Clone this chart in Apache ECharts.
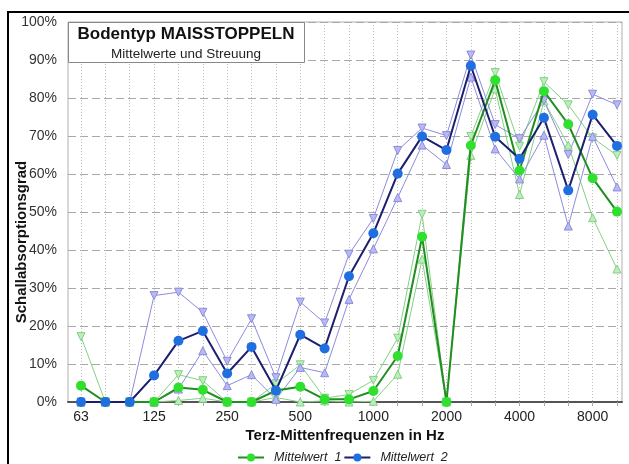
<!DOCTYPE html>
<html>
<head>
<meta charset="utf-8">
<script src="https://cdn.jsdelivr.net/npm/echarts@6/dist/echarts.min.js"></script>
<style>
  html, body { margin: 0; padding: 0; background: #fff; }
  #chart { width: 629px; height: 464px; }
</style>
</head>
<body>
<div id="chart"></div>
<script>
// Third-octave centre frequencies (Hz)
const frequencies = ['63','80','100','125','160','200','250','315','400','500','630','800',
                     '1000','1250','1600','2000','2500','3150','4000','5000','6300','8000','10000'];

// Absorption coefficient in percent, group 1 (mean, mean + spread, mean - spread)
const mean1  = [4.3, 0, 0, 0, 3.8, 3.2, 0, 0, 3.0, 4.0, 0.7, 0.7, 2.9, 12.1, 43.5, 0, 67.5, 84.7, 60.9, 81.8, 73.1, 58.9, 50.1];
const upper1 = [17.2, 0, 0, 0, 7.2, 5.6, 0, 0, 4.8, 9.8, 1.0, 2.0, 5.7, 16.8, 49.4, 0, 69.9, 86.7, 67.3, 84.3, 78.2, 69.5, 64.9];
const lower1 = [0, 0, 0, 0, 0.4, 1.0, 0, 0, 1.2, 0, 0.3, 0, 0.2, 7.3, 37.6, 0, 64.9, 82.4, 54.6, 79.2, 67.6, 48.5, 35.0];

// Group 2
const mean2  = [0, 0, 0, 7.0, 16.1, 18.7, 7.5, 14.5, 3.0, 17.7, 14.1, 33.1, 44.4, 60.1, 69.9, 66.3, 88.5, 69.8, 64.0, 74.8, 55.7, 75.6, 67.4];
const upper2 = [0, 0, 0, 28.0, 28.9, 23.6, 10.7, 21.9, 6.4, 26.3, 20.8, 38.9, 48.3, 66.2, 72.1, 70.1, 91.3, 73.0, 69.3, 79.3, 65.1, 81.0, 78.2];
const lower2 = [0, 0, 0, 0, 3.4, 13.5, 4.3, 7.2, 0.7, 9.1, 7.7, 27.0, 40.3, 53.8, 67.6, 62.5, 85.5, 66.6, 58.7, 70.2, 46.3, 69.9, 56.6];

// Only every third frequency carries a label
const tickLabels = ['63','125','250','500','1000','2000','4000','8000'];

const FONT = "'Liberation Sans', Arial, sans-serif";

const chart = echarts.init(document.getElementById('chart'), null, { renderer: 'canvas' });

function spreadSeries(name, data, color, fill, down) {
  return {
    name: name, type: 'line', data: data,
    xAxisIndex: 1, yAxisIndex: 1,
    symbol: 'triangle', symbolSize: 8, symbolRotate: down ? 180 : 0,
    lineStyle: { color: color, width: 1 },
    itemStyle: { color: fill, borderColor: color, borderWidth: 1 },
    emphasis: { disabled: true }, animation: false, z: 2
  };
}

function meanSeries(name, data, lineColor, dotColor, z) {
  return {
    name: name, type: 'line', data: data,
    xAxisIndex: 1, yAxisIndex: 1,
    symbol: 'circle', symbolSize: 10,
    lineStyle: { color: lineColor, width: 2 },
    itemStyle: { color: dotColor, borderWidth: 0 },
    emphasis: { disabled: true }, animation: false, z: z
  };
}

chart.setOption({
  backgroundColor: '#fff',
  animation: false,
  textStyle: { fontFamily: FONT },
  grid: [
    // frame, horizontal grid and percent labels
    { left: 68, right: 7, top: 22, bottom: 62, show: true, borderColor: '#b0b0b0', borderWidth: 1, backgroundColor: '#fff' },
    // frequency positions
    { left: 81, right: 12, top: 22, bottom: 62 }
  ],
  xAxis: [
    {
      gridIndex: 0, type: 'value', min: 0, max: 1,
      axisLine: { show: true, onZero: false, lineStyle: { color: '#555', width: 2 } },
      axisTick: { show: false }, axisLabel: { show: false }, splitLine: { show: false },
      name: 'Terz-Mittenfrequenzen in Hz', nameLocation: 'middle', nameGap: 26,
      nameTextStyle: { fontFamily: FONT, fontSize: 15, fontWeight: 'bold', color: '#111' }
    },
    {
      gridIndex: 1, type: 'category', data: frequencies, boundaryGap: false,
      axisLine: { show: false },
      axisTick: { show: true, interval: 0, length: 4, lineStyle: { color: '#aaa' } },
      splitLine: { show: true, interval: 0, lineStyle: { color: '#bdbdbd', type: [1, 2], width: 1 } },
      axisLabel: {
        interval: 0, margin: 8, color: '#222', fontSize: 14, fontFamily: FONT,
        formatter: v => tickLabels.includes(v) ? v : ''
      }
    }
  ],
  yAxis: [
    {
      gridIndex: 0, type: 'value', min: 0, max: 100, interval: 10,
      axisLine: { show: false }, axisTick: { show: false },
      axisLabel: { formatter: '{value}%', color: '#333', fontSize: 14, fontFamily: FONT, margin: 11 },
      splitLine: { show: true, lineStyle: { color: '#a8a8a8', type: [8, 4], width: 1 } }
    },
    { gridIndex: 1, type: 'value', min: 0, max: 100, show: false }
  ],
  legend: {
    data: ['Mittelwert  1', 'Mittelwert  2'],
    left: 232, top: 446, itemWidth: 26, itemHeight: 10, itemGap: 2,
    textStyle: { fontFamily: FONT, fontSize: 12.5, fontStyle: 'italic', color: '#222', padding: [0, 0, 0, 5] }
  },
  series: [
    spreadSeries('Streuung 1 oben', upper1, '#86cf86', '#b9f0b9', true),
    spreadSeries('Streuung 1 unten', lower1, '#86cf86', '#b9f0b9', false),
    meanSeries('Mittelwert  1', mean1, '#1f8f1f', '#2fe02f', 4),
    spreadSeries('Streuung 2 oben', upper2, '#8c8cdc', '#b8b8f4', true),
    spreadSeries('Streuung 2 unten', lower2, '#8c8cdc', '#b8b8f4', false),
    meanSeries('Mittelwert  2', mean2, '#1b1f6e', '#1f6fe0', 5)
  ],
  graphic: [
    {
      type: 'rect', silent: true, z: 100,
      shape: { x: 8, y: 12, width: 700, height: 500 },
      style: { fill: 'none', stroke: '#000', lineWidth: 2 }
    },
    {
      type: 'rect', silent: true, z: 100,
      shape: { x: 68.5, y: 22.5, width: 236, height: 40 },
      style: { fill: '#fff', stroke: '#888', lineWidth: 1 }
    },
    {
      type: 'text', silent: true, z: 101, x: 186, y: 34,
      style: { text: 'Bodentyp MAISSTOPPELN', fontFamily: FONT, fontSize: 17, fontWeight: 'bold',
               fill: '#111', align: 'center', verticalAlign: 'middle' }
    },
    {
      type: 'text', silent: true, z: 101, x: 186, y: 54,
      style: { text: 'Mittelwerte und Streuung', fontFamily: FONT, fontSize: 13.5,
               fill: '#222', align: 'center', verticalAlign: 'middle' }
    },
    {
      type: 'text', silent: true, z: 101, x: 22, y: 242, rotation: Math.PI / 2,
      style: { text: 'Schallabsorptionsgrad', fontFamily: FONT, fontSize: 15, fontWeight: 'bold',
               fill: '#111', align: 'center', verticalAlign: 'middle' }
    }
  ]
});
</script>
</body>
</html>
